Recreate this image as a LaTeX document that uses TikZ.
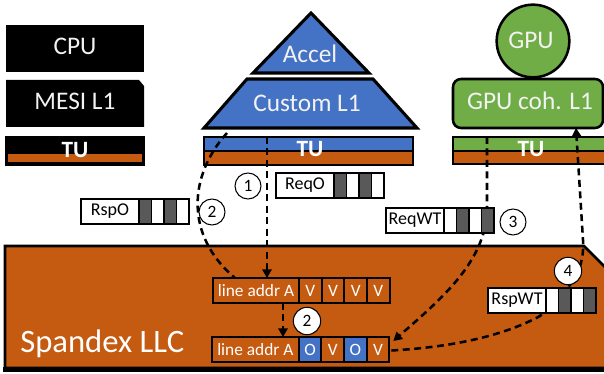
\documentclass[tikz,border=0pt]{standalone}
\usepackage{fontspec}
\setmainfont{Carlito}
\usetikzlibrary{arrows.meta,calc}

\definecolor{llcorange}{HTML}{C55A11}
\definecolor{accblue}{HTML}{4472C4}
\definecolor{gpugreen}{HTML}{70AD47}
\definecolor{cellgray}{HTML}{595959}
\definecolor{lighttext}{HTML}{F2F2F2}

\pgfdeclarelayer{back}
\pgfdeclarelayer{wires}
\pgfsetlayers{back,wires,main}

\tikzset{
  bigtxt/.style={text=lighttext, font=\fontsize{19}{19}\selectfont, inner sep=0pt},
  tutxt/.style={text=white, font=\fontsize{17.5}{17.5}\selectfont\bfseries, inner sep=0pt},
  outline/.style={line width=2pt, line join=miter},
  barframe/.style={draw=black, line width=1.2pt},
  wire/.style={line width=1.9pt, dash pattern=on 5.2pt off 3.4pt},
  tip/.style={-{Triangle[length=6.5pt,width=7pt]}},
  cellbox/.style={draw=black, line width=1.4pt, fill=llcorange, text=white,
    minimum height=18.75pt, inner sep=0pt, outer sep=0pt,
    font=\fontsize{13}{13}\selectfont},
  msglabel/.style={minimum width=43.5pt, minimum height=18.75pt, inner sep=0pt,
    outer sep=0pt, fill=white, font=\fontsize{13.5}{13.5}\selectfont},
  numcirc/.style={circle, draw=black, fill=white, line width=0.8pt,
    minimum size=19.5pt, inner sep=0pt, font=\fontsize{13}{13}\selectfont},
}

% message queue: name, left x, top y, label, four cell colours
\newcommand\msgbox[8]{%
  \node[msglabel, anchor=north west] (#1) at (#2,#3) {#4};
  \fill[#5] (#1.north east) rectangle ++(12.5,25);
  \fill[#6] ($(#1.north east)+(12.5,0)$) rectangle ++(12.5,25);
  \fill[#7] ($(#1.north east)+(25,0)$) rectangle ++(12.5,25);
  \fill[#8] ($(#1.north east)+(37.5,0)$) rectangle ++(12.5,25);
  \draw[line width=1.4pt] (#1.north west) rectangle ++(108,25);
  \foreach \k in {0,12.5,25,37.5}
    \draw[line width=1.2pt] ($(#1.north east)+(\k,0)$) -- ++(0,25);
}

\begin{document}
\begin{tikzpicture}[x=0.75pt,y=-0.75pt]
\useasboundingbox (0,0) rectangle (604,374);

\begin{pgfonlayer}{back}
  % CPU tile
  \fill[black] (6,25) rectangle (144,72);
  \node[bigtxt, anchor=base] (cpu) at (75,55) {CPU};
  \fill[black] (6,80) -- (139,80) -- (144,86) -- (144,127) -- (6,127) -- cycle;
  \node[bigtxt, anchor=base] (mesi) at (75,110) {MESI L1};
  \node[draw=black, fill=black, line width=1pt, minimum width=104pt,
        minimum height=21pt, inner sep=0pt] (tuL) at (74.5,151) {};
  \fill[llcorange] (8,154) rectangle (142,162);
  \node[tutxt, anchor=base] at (75,158) {TU};

  % accelerator tile
  \filldraw[fill=accblue, outline, line width=2.3pt] (253,73) -- (311,13) -- (369,73) -- cycle;
  \node[bigtxt, anchor=base] (accel) at (310,63) {Accel};
  \filldraw[fill=accblue, outline, line width=2.3pt] (204,128) -- (247,79) -- (373,79) -- (417,128) -- cycle;
  \node[bigtxt, anchor=base] (custl1) at (307,112) {Custom L1};
  \fill[accblue] (204,137) rectangle (413,151);
  \fill[llcorange] (204,151) rectangle (413,165);
  \draw[barframe] (204,137) rectangle (413,165);
  \draw[barframe] (204,151) -- (413,151);
  \node[minimum width=156.75pt, minimum height=21pt, inner sep=0pt, outer sep=0pt] (tuM) at (308.5,151) {};
  \node[tutxt, anchor=base] at (310,157) {TU};

  % GPU tile
  \node[circle, draw=black, fill=gpugreen, line width=1.9pt, minimum size=54.5pt,
        inner sep=0pt] (gpu) at (533,41) {};
  \node[bigtxt, anchor=base] at (531,49) {GPU};
  \node[draw=black, fill=gpugreen, line width=1.9pt, rounded corners=6pt,
        minimum width=112.5pt, minimum height=36.75pt, inner sep=0pt, outer sep=0pt]
        (gpul1) at (528,103.5) {};
  \node[bigtxt, anchor=base] at (530,110) {GPU coh. L1};
  \fill[gpugreen] (453,137) rectangle (612,151);
  \fill[llcorange] (453,151) rectangle (612,164);
  \draw[barframe] (453,137) rectangle (612,164);
  \draw[barframe] (453,151) -- (612,151);
  \node[minimum width=119.25pt, minimum height=20.25pt, inner sep=0pt, outer sep=0pt] (tuR) at (532.5,150.5) {};
  \node[tutxt, anchor=base] at (531,157) {TU};

  % shared last-level cache
  \filldraw[fill=llcorange, outline, line width=2pt] (5,246) -- (584,246) -- (624,286) -- (624,368) -- (5,368) -- cycle;
  \draw[line width=3.6pt] (3,369.5) -- (606,369.5);
  \node[text=white, font=\fontsize{24.5}{24.5}\selectfont, inner sep=0pt, anchor=base west]
        (llc) at (20,353) {Spandex LLC};
\end{pgfonlayer}

% cache line before the transition
\node[cellbox, minimum width=64.5pt, anchor=north west] (r1l) at (213,278) {line addr A};
\node[cellbox, minimum width=17pt, anchor=west] (r1a) at (r1l.east) {V};
\node[cellbox, minimum width=17pt, anchor=west] (r1b) at (r1a.east) {V};
\node[cellbox, minimum width=17pt, anchor=west] (r1c) at (r1b.east) {V};
\node[cellbox, minimum width=17pt, anchor=west] (r1d) at (r1c.east) {V};

% cache line after the transition
\node[cellbox, minimum width=65pt, anchor=north west] (r2l) at (212,337) {line addr A};
\node[cellbox, minimum width=17pt, anchor=west, fill=accblue] (r2a) at (r2l.east) {O};
\node[cellbox, minimum width=17pt, anchor=west] (r2b) at (r2a.east) {V};
\node[cellbox, minimum width=17pt, anchor=west, fill=accblue] (r2c) at (r2b.east) {O};
\node[cellbox, minimum width=17pt, anchor=west] (r2d) at (r2c.east) {V};

% dashed message paths
\begin{pgfonlayer}{wires}
  \coordinate (p1) at (267,0);
  \coordinate (p3) at (487,0);
  \coordinate (p4) at (576,0);
  \coordinate (p5) at (283,0);
  \draw[wire, tip] (tuM.north -| p1) -- (r1l.north -| p1);
  \draw[wire] ($(tuM.north west)+(23,-4)$) .. controls (189,175) and (184,235) .. ($(r1l.north west)+(22,0)$);
  \draw[wire, tip] (r1l.south -| p5) -- (r2l.north -| p5);
  \draw[wire, tip] (tuR.north -| p3) -- ++(0,78) .. controls (482,265) and (440,300) .. ($(r2d.north east)+(4,4)$);
  \draw[wire, tip] ($(r2d.east)+(2,1)$) .. controls (455,347) and (505,335) .. (540,316)
        -- (570,285) .. controls (580,272) and (584,258) .. (583,240) -- (gpul1.south -| p4);
\end{pgfonlayer}

% message queues
\msgbox{reqo}{276}{173}{ReqO}{cellgray}{white}{cellgray}{white}
\msgbox{rspo}{81}{199}{RspO}{cellgray}{white}{cellgray}{white}
\msgbox{reqwt}{386}{208}{ReqWT}{white}{cellgray}{white}{cellgray}
\msgbox{rspwt}{488}{288}{RspWT}{white}{cellgray}{white}{cellgray}

% step numbers
\node[numcirc] (s1) at (248,186) {1};
\node[numcirc] (s2a) at (212,212) {2};
\node[numcirc] (s3) at (513,222) {3};
\node[numcirc, minimum size=20.5pt] (s4) at (568,271) {4};
\node[numcirc, minimum size=20.5pt] (s2b) at (307,321) {2};
\end{tikzpicture}
\end{document}
